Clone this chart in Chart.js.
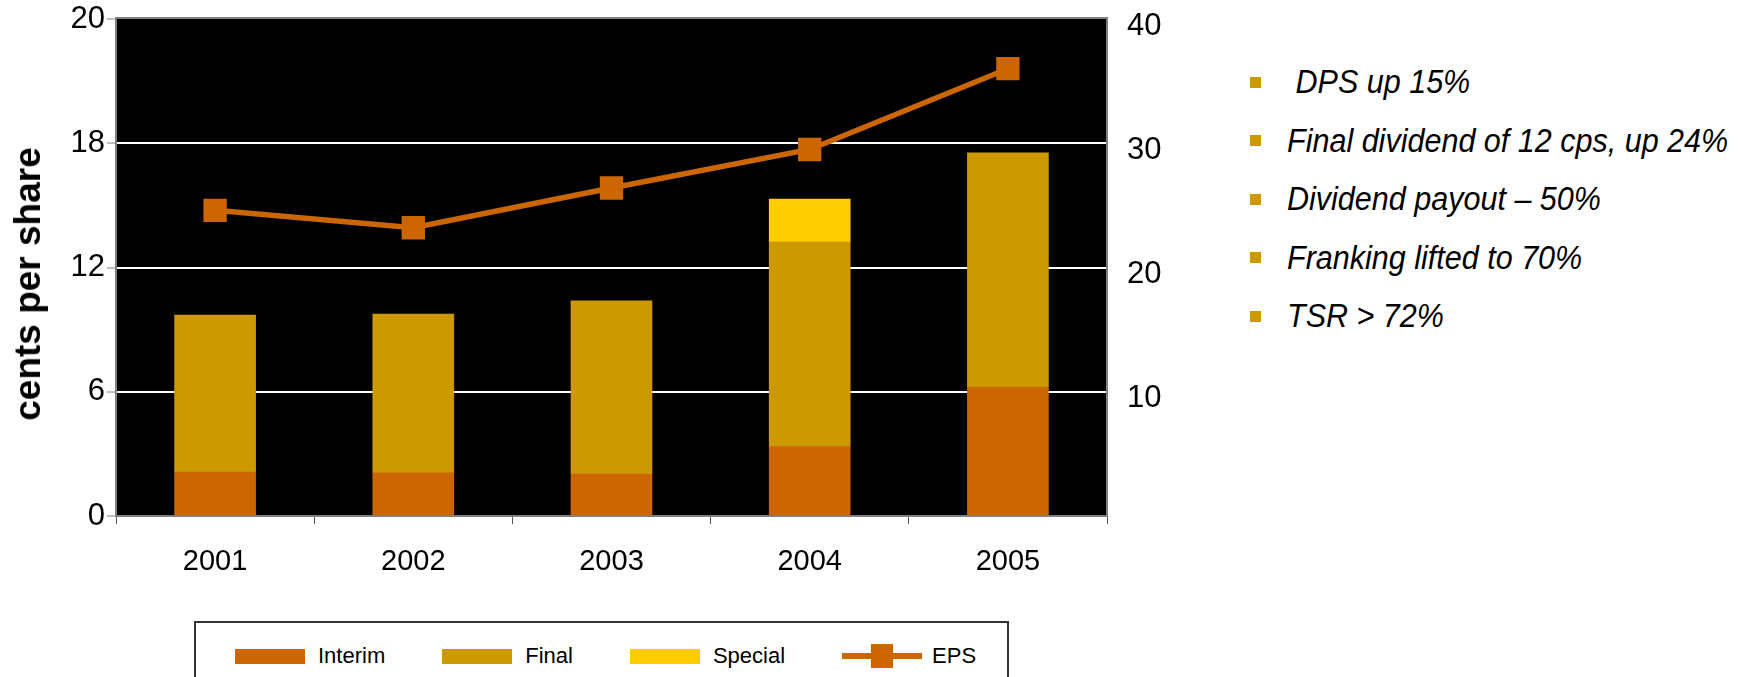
<!DOCTYPE html>
<html>
<head>
<meta charset="utf-8">
<script src="https://cdn.jsdelivr.net/npm/chart.js@4.4.1/dist/chart.umd.min.js"></script>
<style>
  html, body { margin: 0; padding: 0; background: #fff; width: 1748px; height: 677px; overflow: hidden;
               font-family: "Liberation Sans", Arial, sans-serif; }
  #chartBox { position: absolute; left: 0; top: 0; width: 1197px; height: 600px; }
  #axisTitle { position: absolute; left: 28px; top: 284px; transform: translate(-50%, -50%) rotate(-90deg);
               font-weight: bold; font-size: 37px; white-space: nowrap; color: #000; }
  #legend { position: absolute; left: 194px; top: 621px; width: 815px; height: 70px;
            border: 2px solid #333; box-sizing: border-box; display: flex; align-items: center;
            padding-left: 39px; gap: 57px; font-size: 22px; color: #000; }
  .item { display: flex; align-items: center; }
  .swatch { width: 70px; height: 15px; margin-right: 13px; }
  .lineSwatch { position: relative; width: 80px; height: 24px; margin-right: 10px; }
  .lineSwatch .ln { position: absolute; left: 0; right: 0; top: 9px; height: 6px; }
  .lineSwatch .mk { position: absolute; left: 29px; top: 0; width: 22px; height: 24px; }
  #notes { position: absolute; left: 1250px; top: 53px; font-size: 33px; font-style: italic; color: #000; }
  .note { height: 58.5px; display: flex; align-items: center; white-space: pre; }
  .bullet { width: 11px; height: 11px; background: #CC9900; margin-right: 26px; flex: none; }
  .note span.t { display: inline-block; transform: scaleX(0.925); transform-origin: left center; line-height: 58px; }
</style>
</head>
<body>
<div id="chartBox"><canvas id="c" width="1197" height="600"></canvas></div>
<div id="axisTitle">cents per share</div>
<div id="legend"></div>
<div id="notes"></div>
<script>
// Dividends per share (cents), stacked by component, and earnings per share
const years = ['2001', '2002', '2003', '2004', '2005'];
const interim = [2.12, 2.08, 2.03, 3.35, 6.22];
const finalDiv = [7.58, 7.67, 8.36, 9.88, 11.32];
const special = [null, null, null, 2.08, null];
const eps = [24.6, 23.2, 26.4, 29.5, 36.0];

// Axis tick labels as printed on the dividend (left) and EPS (right) axes
const leftTickLabels = ['0', '6', '12', '18', '20'];
const rightTickLabels = ['', '10', '20', '30', '40'];

// Highlights listed beside the chart
const notes = [' DPS up 15%', 'Final dividend of 12 cps, up 24%', 'Dividend payout \u2013 50%',
               'Franking lifted to 70%', 'TSR > 72%'];

const COL_INTERIM = '#CC6600', COL_FINAL = '#CC9900', COL_SPECIAL = '#FFCC00', COL_EPS = '#CC6600';
const FONT = '"Liberation Sans", Arial, sans-serif';

// Black plot background plus a grey frame along the top edge
const plotFrame = {
  id: 'plotFrame',
  beforeDraw(chart) {
    const a = chart.chartArea, c = chart.ctx;
    c.save();
    c.fillStyle = '#000';
    c.fillRect(a.left, a.top, a.right - a.left, a.bottom - a.top);
    c.restore();
  },
  afterDraw(chart) {
    const a = chart.chartArea, c = chart.ctx;
    c.save();
    c.strokeStyle = '#808080';
    c.lineWidth = 2;
    c.beginPath();
    c.moveTo(a.left - 1, a.top - 1);
    c.lineTo(a.right + 1, a.top - 1);
    c.stroke();
    c.restore();
  }
};

// Vertical axes: fixed width, and no extra room reserved for the end labels
function fixVertical(width) {
  return s => { s.width = width; s.paddingTop = 0; s.paddingBottom = 0; };
}

const chart = new Chart(document.getElementById('c'), {
  data: {
    labels: years,
    datasets: [
      { type: 'bar', label: 'Interim', data: interim, backgroundColor: COL_INTERIM, yAxisID: 'y', order: 2, barThickness: 81 },
      { type: 'bar', label: 'Final', data: finalDiv, backgroundColor: COL_FINAL, yAxisID: 'y', order: 2, barThickness: 81 },
      { type: 'bar', label: 'Special', data: special, backgroundColor: COL_SPECIAL, yAxisID: 'y', order: 2, barThickness: 81 },
      { type: 'line', label: 'EPS', data: eps, borderColor: COL_EPS, backgroundColor: COL_EPS, borderWidth: 5.5,
        pointStyle: 'rect', pointRadius: 16.5, pointHoverRadius: 16.5, pointBorderWidth: 0,
        yAxisID: 'y1', order: 1, tension: 0 }
    ]
  },
  options: {
    responsive: false,
    animation: false,
    devicePixelRatio: 1,
    layout: { padding: { top: 19, left: 0, right: 0, bottom: 0 } },
    plugins: { legend: { display: false }, tooltip: { enabled: false } },
    scales: {
      x: {
        stacked: true,
        grid: { display: true, drawOnChartArea: false, offset: true, tickLength: 8, color: '#555', lineWidth: 1 },
        border: { display: true, color: '#808080', width: 2 },
        ticks: { font: { family: FONT, size: 29 }, color: '#000', padding: 21 },
        afterFit(s) { s.height = 84; s.paddingLeft = 0; s.paddingRight = 0; }
      },
      y: {
        stacked: true,
        position: 'left',
        min: 0, max: 24,
        grid: {
          color: ctx => (ctx.tick && (ctx.tick.value === 0 || ctx.tick.value === 24)) ? 'rgba(0,0,0,0)' : '#fff',
          lineWidth: 2, tickLength: 9, tickColor: '#808080', tickWidth: 1
        },
        border: { display: true, color: '#808080', width: 2 },
        ticks: { stepSize: 6, font: { family: FONT, size: 31 }, color: '#000', padding: 2,
                 callback: (v, i) => leftTickLabels[i] },
        afterFit: fixVertical(116)
      },
      y1: {
        position: 'right',
        min: 0, max: 40,
        grid: { display: false },
        border: { display: true, color: '#808080', width: 2 },
        ticks: { stepSize: 10, font: { family: FONT, size: 31 }, color: '#000', padding: 12, labelOffset: 7,
                 callback: (v, i) => rightTickLabels[i] },
        afterFit: fixVertical(90)
      }
    }
  },
  plugins: [plotFrame]
});

// Legend built from the chart's own datasets
const legend = document.getElementById('legend');
chart.data.datasets.forEach(ds => {
  const item = document.createElement('div');
  item.className = 'item';
  if (ds.type === 'line') {
    item.innerHTML = '<div class="lineSwatch"><div class="ln" style="background:' + ds.borderColor +
      '"></div><div class="mk" style="background:' + ds.borderColor + '"></div></div>';
  } else {
    item.innerHTML = '<div class="swatch" style="background:' + ds.backgroundColor + '"></div>';
  }
  const label = document.createElement('span');
  label.textContent = ds.label;
  item.appendChild(label);
  legend.appendChild(item);
});

const notesBox = document.getElementById('notes');
notes.forEach(n => {
  const row = document.createElement('div');
  row.className = 'note';
  row.innerHTML = '<div class="bullet"></div>';
  const t = document.createElement('span');
  t.className = 't';
  t.textContent = n;
  row.appendChild(t);
  notesBox.appendChild(row);
});
</script>
</body>
</html>
